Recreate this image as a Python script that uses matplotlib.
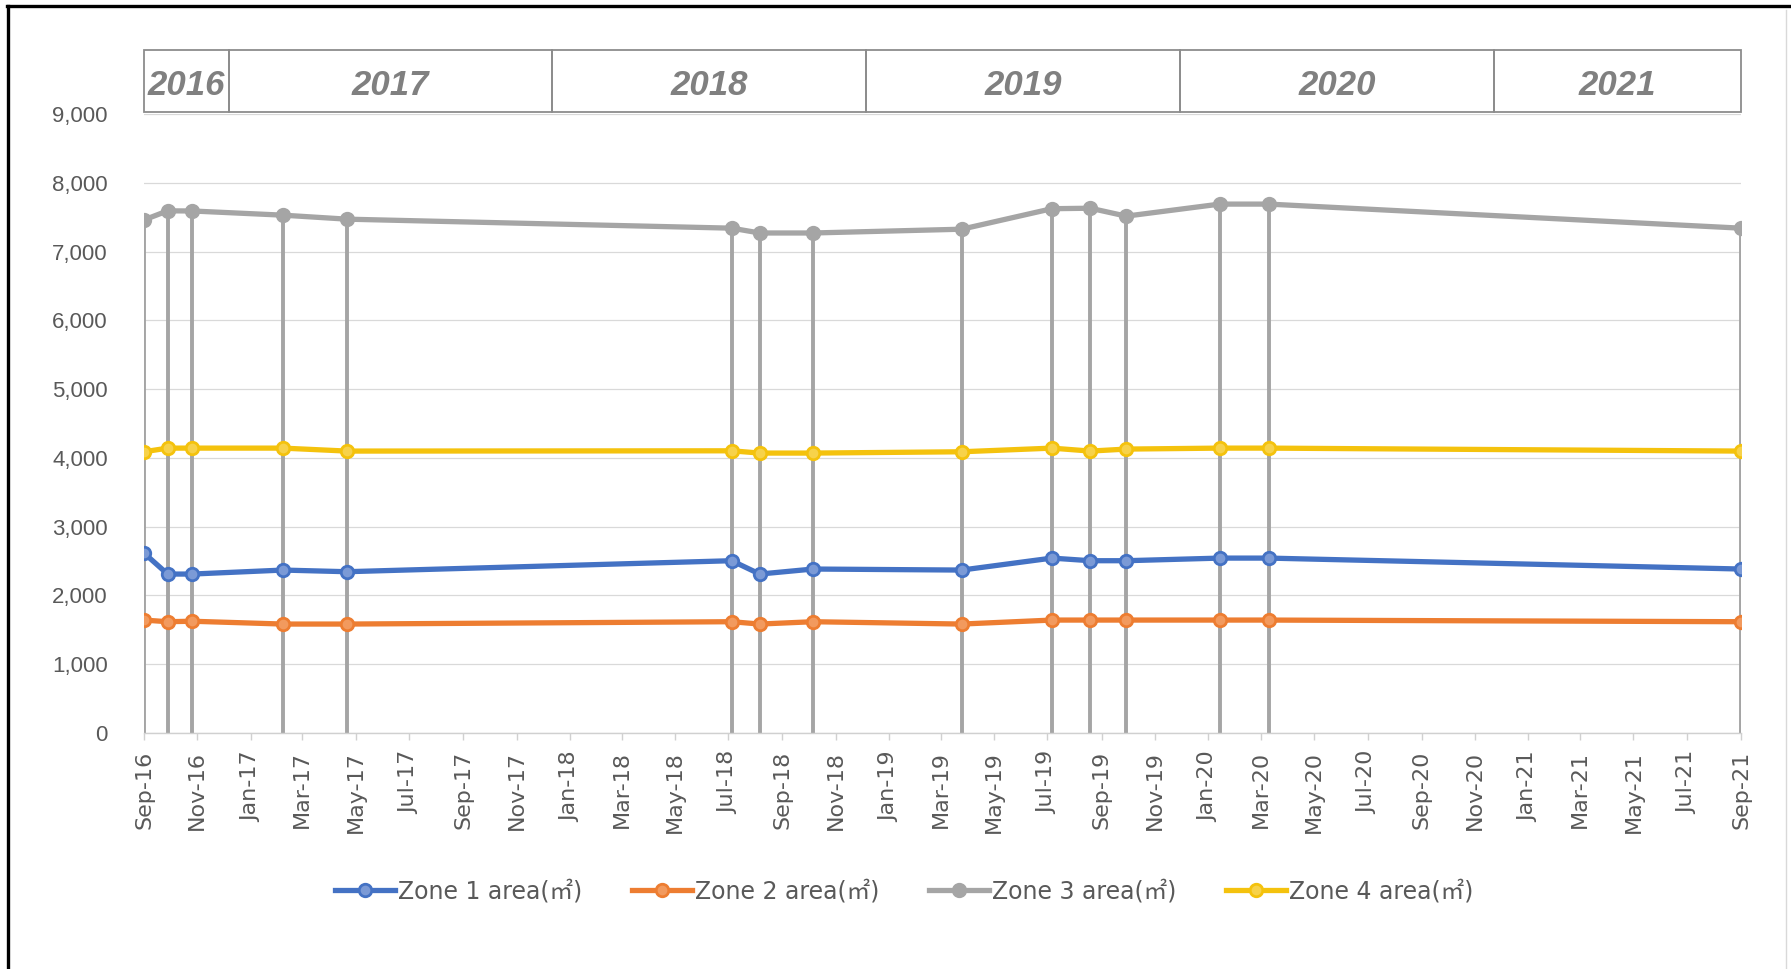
import matplotlib
matplotlib.use('Agg')
from matplotlib import pyplot as plt
from matplotlib import font_manager
from matplotlib.lines import Line2D
from matplotlib.patches import Rectangle
import matplotlib.dates as mdates
import matplotlib.transforms as mtransforms
import pandas as pd

# survey dates and measured areas per zone
dates = ['2016-09-01', '2016-09-28', '2016-10-26', '2017-02-07', '2017-04-21',
         '2018-07-05', '2018-08-06', '2018-10-06', '2019-03-25', '2019-07-06',
         '2019-08-19', '2019-09-29', '2020-01-14', '2020-03-10', '2021-09-01']
zone1 = [2616, 2311, 2311, 2369, 2345, 2505, 2311, 2384, 2369, 2543, 2505, 2505, 2543, 2543, 2384]
zone2 = [1642, 1618, 1625, 1584, 1584, 1618, 1584, 1618, 1584, 1642, 1642, 1642, 1642, 1642, 1618]
zone3 = [7460, 7592, 7590, 7529, 7471, 7340, 7270, 7270, 7325, 7623, 7630, 7515, 7690, 7690, 7340]
zone4 = [4089, 4142, 4142, 4142, 4099, 4103, 4070, 4070, 4089, 4142, 4099, 4128, 4142, 4142, 4099]

series_names = ['Zone 1 area(㎡)', 'Zone 2 area(㎡)', 'Zone 3 area(㎡)', 'Zone 4 area(㎡)']

# year header cells
years = ['2016', '2017', '2018', '2019', '2020', '2021']
year_edges = ['2016-09-01', '2016-12-07', '2017-12-12', '2018-12-06',
              '2019-11-30', '2020-11-23', '2021-09-01']

y_ticks = [0, 1000, 2000, 3000, 4000, 5000, 6000, 7000, 8000, 9000]


def hasFont(name):
    try:
        font_manager.findfont(name, fallback_to_default=False)
        return True
    except ValueError:
        return False


narrow = 'Liberation Sans Narrow' if hasFont('Liberation Sans Narrow') else 'Liberation Sans'
textFamily = ['DejaVu Sans', 'Noto Sans CJK KR']
grey_text = '#595959'

colors = ['#4472C4', '#ED7D31', '#A5A5A5', '#F4C20D']
faces = ['#7b9ad6', '#f29a5e', '#A5A5A5', '#f7d24a']

x = pd.to_datetime(dates)

fig = plt.figure(figsize=(17.91, 9.69), dpi=100)
ax = fig.add_axes([144 / 1791, 1 - 733 / 969, (1741 - 144) / 1791, (733 - 114) / 969])

# drop lines from zone 3 down to the axis
ax.vlines(x, 0, zone3, color='#A5A5A5', linewidth=2.8, zorder=2)

for vals, name, c, fc in zip([zone1, zone2, zone3, zone4], series_names, colors, faces):
    ax.plot(x, vals, color=c, linewidth=3.8, marker='o', markersize=9,
            markerfacecolor=fc, markeredgecolor=c, markeredgewidth=2,
            label=name, zorder=3)

ax.set_ylim(0, 9000)
ax.set_yticks(y_ticks)
ax.set_yticklabels(['{:,}'.format(v) for v in y_ticks])
ax.set_xlim(x[0], x[-1])

ticks = pd.date_range('2016-09-01', '2021-09-01', freq='2MS')
ax.set_xticks(ticks)
ax.set_xticklabels([t.strftime('%b-%y') for t in ticks], rotation=90,
                   fontsize=16, color=grey_text, family=textFamily)
for lab in ax.get_yticklabels():
    lab.set_family(narrow)
    lab.set_fontsize(16)
    lab.set_color(grey_text)

ax.grid(axis='y', color='#d9d9d9', linewidth=0.9, zorder=0)
ax.set_axisbelow(True)
for s in ['top', 'right', 'left']:
    ax.spines[s].set_visible(False)
ax.spines['bottom'].set_color('#d0d0d0')
ax.spines['bottom'].set_linewidth(1.0)
ax.tick_params(axis='y', length=0, pad=26)
ax.tick_params(axis='x', length=5, color='#d0d0d0', width=1, pad=8)

# year header above the plot
trans = mtransforms.blended_transform_factory(ax.transData, ax.transAxes)
edges = mdates.date2num(pd.to_datetime(year_edges))
box_bottom = 1.003
box_top = 1 + (114 - 50) / (733 - 114)
for i, yr in enumerate(years):
    ax.add_patch(Rectangle((edges[i], box_bottom), edges[i + 1] - edges[i], box_top - box_bottom,
                           transform=trans, fill=False, edgecolor='#8c8c8c',
                           linewidth=1.3, clip_on=False, zorder=5))
    ax.text((edges[i] + edges[i + 1]) / 2, (box_bottom + box_top) / 2 - 0.007, yr, transform=trans,
            ha='center', va='center', fontsize=30 if narrow != 'Liberation Sans' else 25,
            fontweight='bold', fontstyle='italic', family=narrow, color='#808080')

leg = fig.legend(loc='center', bbox_to_anchor=(904 / 1791, 1 - 891 / 969), ncol=4,
                 frameon=False, handlelength=2.55, handletextpad=0.12, columnspacing=2.1,
                 prop={'family': textFamily, 'size': 17})
for t in leg.get_texts():
    t.set_color(grey_text)

# chart frame
fig.add_artist(Line2D([8 / 1791, 8 / 1791], [0, 1 - 6 / 969], transform=fig.transFigure,
                      color='black', linewidth=2.4))
fig.add_artist(Line2D([7 / 1791, 1], [1 - 6 / 969, 1 - 6 / 969], transform=fig.transFigure,
                      color='black', linewidth=2.4))
fig.add_artist(Line2D([1786 / 1791, 1786 / 1791], [0, 1 - 10 / 969], transform=fig.transFigure,
                      color='#d9d9d9', linewidth=1.0))

fig.savefig('out.png', dpi=100)
